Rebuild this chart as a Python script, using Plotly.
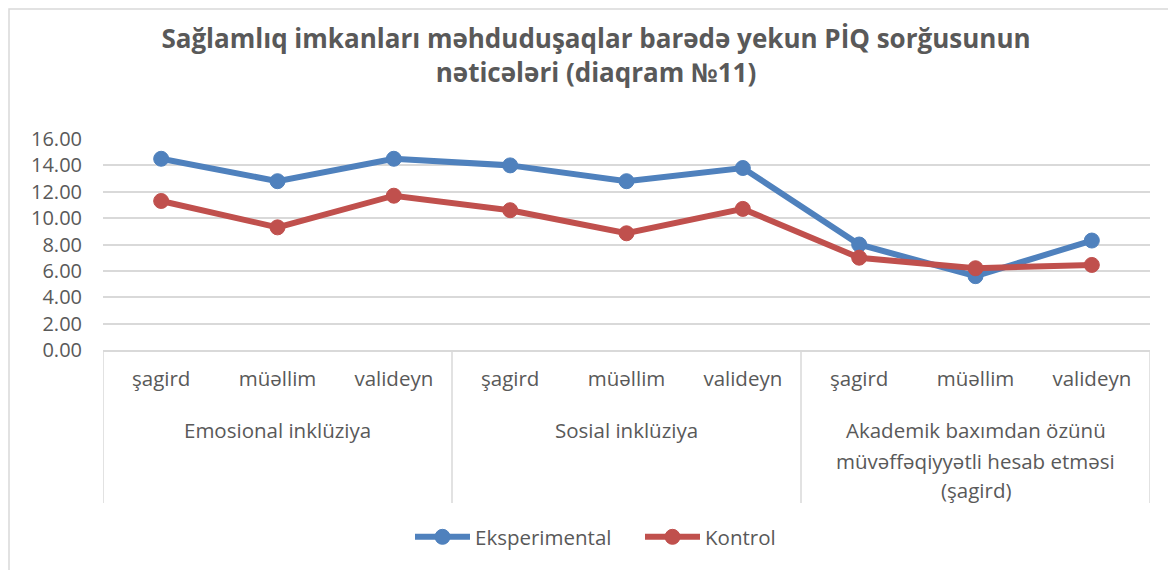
import plotly.graph_objects as go

# ---- data ----
groups = ["Emosional inklüziya", "Sosial inklüziya",
          "Akademik baxımdan özünü\nmüvəffəqiyyətli hesab etməsi\n(şagird)"]
subcats = ["şagird", "müəllim", "valideyn"] * 3
eksperimental = [14.5, 12.8, 14.5, 14.0, 12.8, 13.8, 8.0, 5.6, 8.3]
kontrol = [11.3, 9.3, 11.7, 10.6, 8.85, 10.7, 7.0, 6.2, 6.45]
series_names = ["Eksperimental", "Kontrol"]
y_ticks = [0, 2, 4, 6, 8, 10, 12, 14, 16]
title_text = "Sağlamlıq imkanları məhduduşaqlar barədə yekun PİQ sorğusunun<br>nəticələri (diaqram №11)"

OFF = 8  # page body margin
W, H = 1176 - OFF, 570 - OFF
L, R, T, B = 103 - OFF, 26, 139 - OFF, 220
PW, PH = W - L - R, H - T - B

def px_x(px):
    return (px - OFF - L) / PW

def px_y(py):
    return (H - B - (py - OFF)) / PH

FONT = "Open Sans"
GREY = "#595959"
LINE_GREY = "#D9D9D9"
colors = ["#4F81BD", "#C0504D"]

xpos = list(range(len(subcats)))

fig = go.Figure()
for name, vals, c in zip(series_names, [eksperimental, kontrol], colors):
    fig.add_trace(go.Scatter(
        x=xpos, y=vals, name=name, mode="lines+markers",
        line=dict(color=c, width=6),
        marker=dict(size=15, color=c, line=dict(color=c, width=1)),
    ))

shapes = []
n_per = 3
for k in range(len(groups) + 1):
    xv = k * n_per - 0.5
    shapes.append(dict(type="line", xref="x", yref="paper",
                       x0=xv, x1=xv, y0=0, y1=px_y(503),
                       line=dict(color=LINE_GREY, width=1.5)))
# outer chart border
shapes.append(dict(type="rect", xref="paper", yref="paper",
                   x0=px_x(9), x1=px_x(1190), y0=px_y(600), y1=px_y(9),
                   line=dict(color=LINE_GREY, width=1.5), fillcolor="rgba(0,0,0,0)",
                   layer="below"))

annotations = []
line_y = [430, 461, 490]
for gi, g in enumerate(groups):
    for li, txt in enumerate(g.split("\n")):
        annotations.append(dict(
            x=gi * n_per + 1, xref="x", y=px_y(line_y[li]), yref="paper",
            text=txt, showarrow=False, xanchor="center", yanchor="middle",
            font=dict(family=FONT, size=20.5, color=GREY)))

fig.update_layout(
    width=W, height=H, autosize=False,
    margin=dict(l=L, r=R, t=T, b=B),
    paper_bgcolor="white", plot_bgcolor="white",
    title=dict(text=title_text, x=px_x(596), xref="paper", xanchor="center",
               y=1 - (48 - OFF) / H, yref="container", yanchor="middle",
               font=dict(family=FONT, size=26, color=GREY, weight="bold")),
    xaxis=dict(range=[-0.5, len(subcats) - 0.5], tickmode="array",
               tickvals=xpos, ticktext=subcats, showgrid=False,
               showline=True, linecolor=LINE_GREY, linewidth=1.5,
               ticks="", ticklabelstandoff=10, zeroline=False,
               tickfont=dict(family=FONT, size=20.5, color=GREY)),
    yaxis=dict(range=[0, 16], tickmode="array", tickvals=y_ticks,
               tickformat=".2f", showgrid=True, gridcolor=LINE_GREY, gridwidth=1.5,
               zeroline=False, showline=False, ticks="",
               ticklabelstandoff=20,
               tickfont=dict(family=FONT, size=20, color=GREY)),
    legend=dict(orientation="h", x=px_x(410), xanchor="left",
                y=px_y(537), yanchor="middle",
                font=dict(family=FONT, size=20.5, color=GREY),
                itemwidth=55, entrywidth=160, entrywidthmode="pixels",
                traceorder="normal"),
    shapes=shapes, annotations=annotations,
)

fig.write_html("out.html")
